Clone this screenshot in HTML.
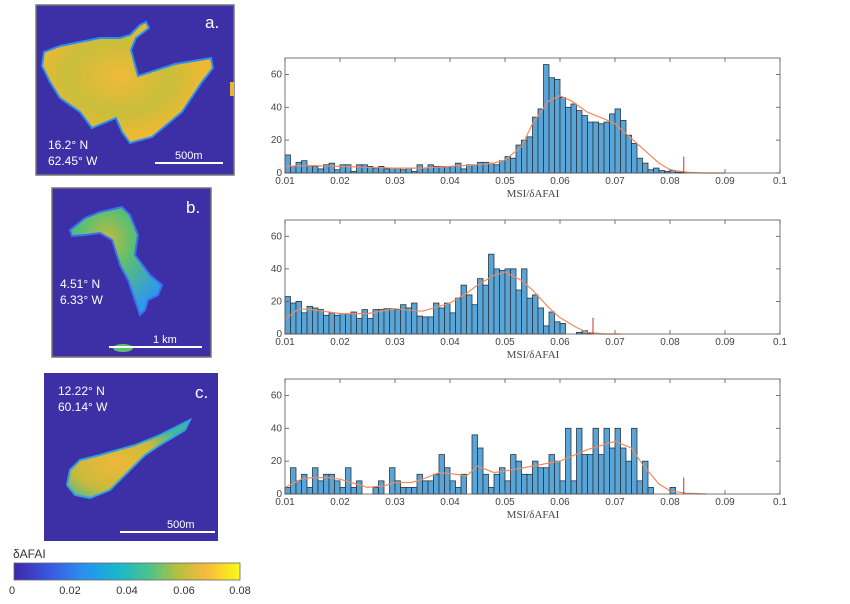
<!DOCTYPE html>
<html><head><meta charset="utf-8"><style>
body{margin:0;background:#fff;width:850px;height:604px;overflow:hidden;font-family:"Liberation Sans",sans-serif}
svg{position:absolute;left:0;top:0}
</style></head><body>
<svg id="fig" width="850" height="604" viewBox="0 0 850 604">
<defs>
<linearGradient id="cb" x1="0" x2="1" y1="0" y2="0">
<stop offset="0" stop-color="#3e26a8"/><stop offset="0.15" stop-color="#3a55e0"/><stop offset="0.3" stop-color="#2b8ef0"/><stop offset="0.45" stop-color="#16b6d0"/><stop offset="0.6" stop-color="#4cc38a"/><stop offset="0.72" stop-color="#b2c040"/><stop offset="0.85" stop-color="#f8ba3c"/><stop offset="1" stop-color="#f9fb15"/>
</linearGradient>
<radialGradient id="ga" cx="0.45" cy="0.45" r="0.6"><stop offset="0" stop-color="#f0ba38"/><stop offset="0.5" stop-color="#c8be3a"/><stop offset="0.85" stop-color="#f0b834"/><stop offset="1" stop-color="#e8b436"/></radialGradient>
<radialGradient id="gb" cx="0.4" cy="0.3" r="0.7"><stop offset="0" stop-color="#c4b840"/><stop offset="0.4" stop-color="#5cc070"/><stop offset="1" stop-color="#2f9ae8"/></radialGradient>
<radialGradient id="gc" cx="0.4" cy="0.55" r="0.6"><stop offset="0" stop-color="#f0b83a"/><stop offset="0.6" stop-color="#c8ba3c"/><stop offset="1" stop-color="#40b8a0"/></radialGradient>
</defs>
<g>
<rect x="36" y="5" width="198" height="170" fill="#3d2fa6" stroke="#777" stroke-width="1.5"/>
<path d="M44,52 L60,46 L100,38 L120,38 L130,35 L140,25 L146,22 L149,28 L136,38 L131,50 L138,76 L175,64 L211,58 L213,68 L202,82 L182,112 L152,137 L130,143 L122,132 L116,118 L92,128 L80,112 L60,98 L50,82 L42,66 Z" fill="url(#ga)" stroke="#2a8ff0" stroke-width="2"/>
<rect x="230" y="82" width="4" height="14" fill="#e8b436"/>
<text x="205" y="28" font-size="17" fill="#fff">a.</text>
<text x="48" y="149" font-size="12" fill="#fff">16.2° N</text>
<text x="48" y="165" font-size="12" fill="#fff">62.45° W</text>
<text x="175" y="159" font-size="11" fill="#fff">500m</text>
<rect x="155" y="162" width="68" height="2" fill="#fff"/>
</g>
<g>
<rect x="52" y="188" width="159" height="169" fill="#3d2fa6" stroke="#777" stroke-width="1.5"/>
<path d="M70,230 L85,218 L100,212 L122,207 L130,215 L138,235 L135,255 L150,275 L162,285 L158,295 L148,300 L145,310 L140,315 L135,300 L128,280 L120,265 L112,240 L100,233 L85,235 L72,236 Z" fill="url(#gb)" stroke="#3a70f0" stroke-width="2"/>
<ellipse cx="123" cy="348" rx="10" ry="4" fill="#5cc070"/>
<text x="186" y="213" font-size="17" fill="#fff">b.</text>
<text x="60" y="288" font-size="12" fill="#fff">4.51° N</text>
<text x="60" y="304" font-size="12" fill="#fff">6.33° W</text>
<text x="153" y="343" font-size="11" fill="#fff">1 km</text>
<rect x="109" y="346" width="93" height="2" fill="#fff"/>
</g>
<g>
<rect x="44" y="373" width="174" height="168" fill="#3d2fa6"/>
<path d="M70,470 L80,460 L100,455 L135,445 L160,435 L190,420 L185,430 L160,445 L145,455 L130,470 L110,490 L90,498 L75,495 L67,485 Z" fill="url(#gc)" stroke="#30a0e0" stroke-width="2"/>
<text x="195" y="398" font-size="17" fill="#fff">c.</text>
<text x="58" y="395" font-size="12" fill="#fff">12.22° N</text>
<text x="58" y="411" font-size="12" fill="#fff">60.14° W</text>
<text x="167" y="528" font-size="11" fill="#fff">500m</text>
<rect x="120" y="531" width="95" height="2" fill="#fff"/>
</g>
<g>
<text x="13" y="558" font-size="12" fill="#333">δAFAI</text>
<rect x="14" y="563" width="226" height="17" fill="url(#cb)" stroke="#666" stroke-width="0.8"/>
<g font-size="11" fill="#333" text-anchor="middle">
<text x="12" y="594">0</text><text x="70" y="594">0.02</text><text x="127" y="594">0.04</text><text x="184" y="594">0.06</text><text x="240" y="594">0.08</text>
</g>
</g>
<g id="charts"></g>
</svg>
<script>
// chart data
const binStart = 0.01, binWidth = 0.001;
const xTicks = [0.01,0.02,0.03,0.04,0.05,0.06,0.07,0.08,0.09,0.1];
const xTickLabels = ["0.01","0.02","0.03","0.04","0.05","0.06","0.07","0.08","0.09","0.1"];
const yTicks = [0,20,40,60];
const countsA = [11,4,6.5,7.5,4.5,4,2.5,5,6,2, 5,5,1,5,5,4,3,4,2.5,3, 3,2,3,1,5,3,5,4,4,4, 4,6,2.5,5,5,6.5,6.5,6,5,7.5, 10,9,17,20,22,34,39,66,58,57, 46,40,42,38,35,31,31,30,31,36, 39,32,23,18,9,6,2,3,1.5,1, 1.5,0.5,0.5];
const countsB = [23,19,20,13,17,16,15,11.5,13,11.5, 12.5,12.5,13.5,9.5,15,9.5,15,15,15.5,15.5, 15,18,16,19,11,10.5,10.5,19,16,19, 13,22,30,24,18,34,30,49,40,39, 40,40,27,40,22,24,16,5,13.5,7.5, 6.5,0,0,1,2,0.5];
const countsC = [4,16,8,12,4,16,8,12,12,8, 4,16,4,8,0,0,4,8,0,16, 8,4,4,4,12,8,8,12,24,16, 8,4,12,0,36,28,12,4,12,16, 8,24,20,12,12,20,16,16,24,20, 8,40,8,40,24,24,40,24,40,28, 40,28,20,40,8,20,4,0,0,0, 4];
const curveXA = [0.01,0.015,0.02,0.025,0.03,0.035,0.04,0.045,0.048,0.05,0.053,0.055,0.058,0.06,0.062,0.065,0.068,0.07,0.072,0.075,0.078,0.08,0.083,0.086,0.09];
const curveYA = [4,4.5,4,3.5,3,3,4,5,6,8,16,30,44,47,44,37,33,30,24,15,6,2,0.5,0,0];
const curveXB = [0.01,0.0125,0.015,0.02,0.025,0.03,0.035,0.04,0.043,0.045,0.048,0.05,0.053,0.055,0.058,0.06,0.063,0.065,0.068,0.071];
const curveYB = [9,15.5,15,12.5,12.5,15.5,14,19,25,30,36,38,33,27,16,10,4,1,0,0];
const curveXC = [0.01,0.013,0.015,0.018,0.02,0.022,0.025,0.028,0.03,0.033,0.035,0.038,0.04,0.043,0.045,0.048,0.05,0.055,0.06,0.065,0.07,0.073,0.075,0.078,0.08,0.083,0.0865];
const curveYC = [4,9,10,10,9,7,4,5,7,7,9,13,12.5,11,17,13,14,17,20,27,32,28,18,6,2,0.5,0];
const markA = 0.0825, markB = 0.066, markC = 0.0825;

const NS = "http://www.w3.org/2000/svg";
const root = document.getElementById('charts');
function mk(tag, attrs, parent){const e=document.createElementNS(NS,tag);for(const k in attrs)e.setAttribute(k,attrs[k]);parent.appendChild(e);return e;}

function drawChart(name, top, bottom, counts, cx, cy, mark){
  const L=285, R=780, ymax=70;
  const xs = v => L + (v-0.01)/(0.1-0.01)*(R-L);
  const ys = v => bottom - v/ymax*(bottom-top);
  const g = mk('g',{},root);
  
  
  counts.forEach((c,i)=>{
    if(c<=0) return;
    const x0 = xs(binStart+i*binWidth), x1 = xs(binStart+(i+1)*binWidth);
    const r = mk('rect',{x:x0,y:ys(c),width:x1-x0,height:bottom-ys(c),fill:'#5aa5d8',stroke:'#2a3540','stroke-width':0.8},g);
    
    
  });
  let d='';
  cx.forEach((v,i)=>{d+=(i?'L':'M')+xs(v).toFixed(1)+','+ys(cy[i]).toFixed(1);});
  const p = mk('path',{d:d,fill:'none',stroke:'#f08a60','stroke-width':1.2},g);
  
  
  const m = mk('line',{x1:xs(mark),x2:xs(mark),y1:bottom,y2:ys(10),stroke:'#d03020','stroke-width':1},g);
  
  
  mk('rect',{x:L,y:top,width:R-L,height:bottom-top,fill:'none',stroke:'#555','stroke-width':0.8},g);
  xTicks.forEach((t,i)=>{
    mk('line',{x1:xs(t),x2:xs(t),y1:bottom,y2:bottom-4,stroke:'#555','stroke-width':0.8},g);
    mk('line',{x1:xs(t),x2:xs(t),y1:top,y2:top+4,stroke:'#555','stroke-width':0.8},g);
    const tx = mk('text',{x:xs(t),y:bottom+11,'font-size':10,fill:'#444','text-anchor':'middle'},g);
    tx.textContent = xTickLabels[i];
  });
  yTicks.forEach(t=>{
    mk('line',{x1:L,x2:L+4,y1:ys(t),y2:ys(t),stroke:'#555','stroke-width':0.8},g);
    mk('line',{x1:R,x2:R-4,y1:ys(t),y2:ys(t),stroke:'#555','stroke-width':0.8},g);
    const ty = mk('text',{x:L-3,y:ys(t)+3,'font-size':10,fill:'#444','text-anchor':'end'},g);
    ty.textContent = t;
  });
  const xl = mk('text',{x:533,y:bottom+24,'font-size':11,fill:'#444','text-anchor':'middle','font-family':'Liberation Serif, serif'},g);
  
  
  xl.textContent = 'MSI/δAFAI';
}
drawChart('histogram-a', 58, 173, countsA, curveXA, curveYA, markA);
drawChart('histogram-b', 220, 334, countsB, curveXB, curveYB, markB);
drawChart('histogram-c', 379, 494, countsC, curveXC, curveYC, markC);
</script>
</body></html>
